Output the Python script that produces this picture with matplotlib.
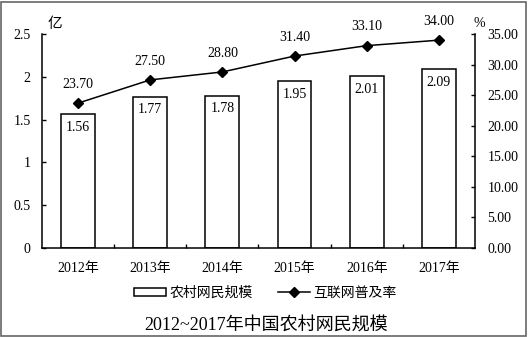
import matplotlib.pyplot as plt
from matplotlib.patches import Rectangle
from matplotlib.ticker import FixedLocator

plt.rcParams['font.family'] = ['Liberation Serif', 'Noto Sans CJK SC', 'DejaVu Sans']

years = ['2012年', '2013年', '2014年', '2015年', '2016年', '2017年']
users = [1.56, 1.77, 1.78, 1.95, 2.01, 2.09]        # 亿
rate = [23.70, 27.50, 28.80, 31.40, 33.10, 34.00]   # %
left_ticks = [0, 0.5, 1, 1.5, 2, 2.5]
left_labels = ['0', '0.5', '1', '1.5', '2', '2.5']
right_ticks = [0, 5, 10, 15, 20, 25, 30, 35]

fs = 10

fig = plt.figure(figsize=(5.28, 3.37), dpi=100)
ax = fig.add_axes([0.0795, 0.264, 0.82, 0.635])
x = list(range(len(years)))

bars = ax.bar(x, users, width=0.47, color='white', edgecolor='black', linewidth=1.1,
              label='农村网民规模')
for xi, v in zip(x, users):
    ax.annotate(f'{v:.2f}', (xi, v), xytext=(0, -9.5), textcoords='offset points',
                ha='center', va='center', fontsize=fs)

ax.set_xlim(-0.5, 5.5)
ax.set_ylim(0, 2.5)
ax.set_yticks(left_ticks)
ax.set_yticklabels(left_labels, fontsize=fs)
ax.set_xticks(x)
ax.set_xticklabels(years, fontsize=fs)
ax.xaxis.set_minor_locator(FixedLocator([0.5, 1.5, 2.5, 3.5, 4.5]))
ax.tick_params(axis='x', which='major', length=0, pad=10)
ax.tick_params(axis='x', which='minor', direction='in', length=3, width=1)
ax.tick_params(axis='y', direction='in', length=3, width=1, pad=8)
ax.spines['top'].set_visible(False)
ax.spines['right'].set_visible(False)
for s in ['left', 'bottom']:
    ax.spines[s].set_linewidth(1.1)

ax2 = ax.twinx()
line, = ax2.plot(x, rate, color='black', marker='D', markersize=5.5, linewidth=1.1,
                 label='互联网普及率')
for xi, v in zip(x, rate):
    ax2.annotate(f'{v:.2f}', (xi, v), xytext=(0, 13.5), textcoords='offset points',
                 ha='center', va='center', fontsize=fs)
ax2.set_ylim(0, 35)
ax2.set_yticks(right_ticks)
ax2.set_yticklabels([f'{t:.2f}' for t in right_ticks], fontsize=fs)
ax2.tick_params(axis='y', direction='in', length=3, width=1, pad=9)
ax2.spines['top'].set_visible(False)
ax2.spines['left'].set_visible(False)
ax2.spines['bottom'].set_visible(False)
ax2.spines['right'].set_linewidth(1.1)

fig.text(0.103, 0.928, '亿', fontsize=10.5, ha='center', va='center')
fig.text(0.908, 0.93, '%', fontsize=10, ha='center', va='center')

fig.legend([bars, line], ['农村网民规模', '互联网普及率'], loc='center', ncol=2,
           bbox_to_anchor=(0.503, 0.13), frameon=False, fontsize=fs,
           handlelength=2.3, handleheight=0.6, columnspacing=1.8, handletextpad=0.25)

fig.text(0.503, 0.035, '2012~2017年中国农村网民规模', fontsize=13, ha='center', va='center',
         fontweight='medium', family=['Liberation Serif', 'Noto Sans CJK SC'])

fig.patches.append(Rectangle((0.002, 0.003), 0.994, 0.992, transform=fig.transFigure,
                             fill=False, edgecolor='#666666', linewidth=1.2))

fig.savefig('out.png', dpi=100)
